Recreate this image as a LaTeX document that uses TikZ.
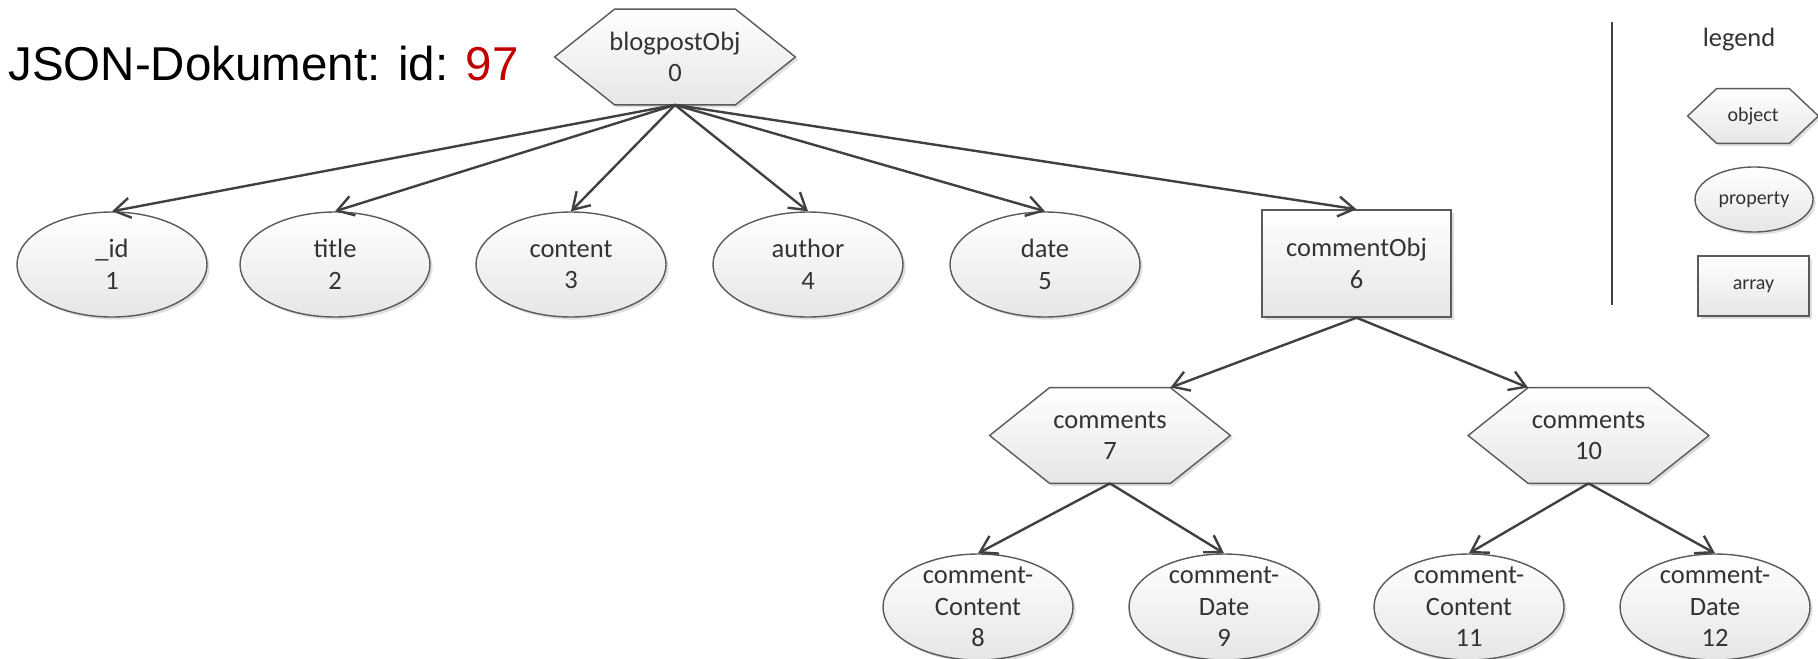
\documentclass[tikz,border=0pt]{standalone}
\usepackage{fontspec}
\setmainfont{Carlito}
\newfontfamily\titlefont{Liberation Sans}
\usetikzlibrary{shapes.geometric,arrows.meta,shadows,backgrounds}
\definecolor{edgegray}{HTML}{5A5A5A}
\definecolor{linkgray}{HTML}{404040}
\definecolor{idred}{HTML}{C00000}
\definecolor{fillbot}{HTML}{E6E6E6}
\definecolor{textgray}{HTML}{333333}
\tikzset{
  shapestyle/.style={draw=edgegray, line width=0.7pt, top color=white, bottom color=fillbot,
    drop shadow={shadow xshift=1.3pt, shadow yshift=-1.3pt, fill=black, opacity=0.13}},
  propnode/.style={ellipse, shapestyle, inner sep=0pt, minimum width=95pt, minimum height=52.5pt},
  arraynode/.style={rectangle, shapestyle, inner sep=0pt, minimum width=94.5pt, minimum height=53.5pt},
  txt/.style={align=center, inner sep=0pt, text=textgray, font=\fontsize{13.25}{15.75}\selectfont},
  smalltxt/.style={align=center, inner sep=0pt, text=textgray, font=\fontsize{10}{12}\selectfont},
  hexnode/.style={rectangle, txt, minimum width=120pt, minimum height=47.5pt},
  link/.style={draw=linkgray, line width=1.2pt, -{Straight Barb[length=8pt,width=10pt,line width=1.2pt]}},
}
\newcommand\drawhex[2]{%
  \begin{pgfonlayer}{background}
  \path[shapestyle] (#1.west) -- ([xshift=#2]#1.north west) -- ([xshift=-#2]#1.north east)
    -- (#1.east) -- ([xshift=-#2]#1.south east) -- ([xshift=#2]#1.south west) -- cycle;
  \end{pgfonlayer}}
\begin{document}
\begin{tikzpicture}[x=0.5pt,y=-0.5pt]
\useasboundingbox (0,0) rectangle (1818,658);

% title
\node[anchor=base west, inner sep=0pt, font=\titlefont\fontsize{23.75}{28}\selectfont] (title) at (8,81)
  {JSON-Dokument: id: \textcolor{idred}{97}};

% root object
\node[hexnode] (bp) at (675,57) {blogpostObj\\0};
\drawhex{bp}{30pt}

% properties, first row
\node[propnode] (p1) at (112,264.5) {};
\node[txt] (p1t) at (p1) {\_id\\1};
\node[propnode] (p2) at (335,264.5) {};
\node[txt] (p2t) at (p2) {title\\2};
\node[propnode] (p3) at (571,264.5) {};
\node[txt] (p3t) at (p3) {content\\3};
\node[propnode] (p4) at (808,264.5) {};
\node[txt] (p4t) at (p4) {author\\4};
\node[propnode] (p5) at (1045,264.5) {};
\node[txt] (p5t) at (p5) {date\\5};

% array
\node[arraynode] (co) at (1356.5,263.5) {};
\node[txt] (cot) at (co) {commentObj\\6};

% comment objects
\node[hexnode] (c7) at (1110,435.5) {comments\\7};
\drawhex{c7}{30pt}
\node[hexnode] (c10) at (1588.5,435.5) {comments\\10};
\drawhex{c10}{30pt}

% third row
\node[propnode, minimum height=53pt] (p8) at (978,607) {};
\node[txt] (p8t) at (p8) {comment-\\Content\\8};
\node[propnode, minimum height=53pt] (p9) at (1224,607) {};
\node[txt] (p9t) at (p9) {comment-\\Date\\9};
\node[propnode, minimum height=53pt] (p11) at (1469,607) {};
\node[txt] (p11t) at (p11) {comment-\\Content\\11};
\node[propnode, minimum height=53pt] (p12) at (1715,607) {};
\node[txt] (p12t) at (p12) {comment-\\Date\\12};

% connectors
\draw[link] (bp.south) -- (p1.north);
\draw[link] (bp.south) -- (p2.north);
\draw[link] (bp.south) -- (p3.north);
\draw[link] (bp.south) -- (p4.north);
\draw[link] (bp.south) -- (p5.north);
\draw[link] (bp.south) -- (co.north);
\draw[link] (co.south) -- ([xshift=-30pt]c7.north east);
\draw[link] (co.south) -- ([xshift=30pt]c10.north west);
\draw[link] (c7.south) -- (p8.north);
\draw[link] (c7.south) -- (p9.north);
\draw[link] (c10.south) -- (p11.north);
\draw[link] (c10.south) -- (p12.north);

% legend
\coordinate (lgtop) at (1612,22);
\coordinate (lgbot) at (1612,305);
\draw[draw=linkgray, line width=1.2pt] (lgtop) -- (lgbot);
\node[txt] (lgtitle) at (1739,40) {legend};
\node[rectangle, smalltxt, minimum width=65pt, minimum height=27pt] (lgobj) at (1753,116) {object};
\drawhex{lgobj}{14.5pt}
\node[ellipse, shapestyle, inner sep=0pt, minimum width=59pt, minimum height=32.5pt, smalltxt] (lgprop) at (1754,199.5) {property};
\node[rectangle, shapestyle, inner sep=0pt, minimum width=55.5pt, minimum height=30pt, smalltxt] (lgarr) at (1753.5,286) {array};
\end{tikzpicture}
\end{document}
